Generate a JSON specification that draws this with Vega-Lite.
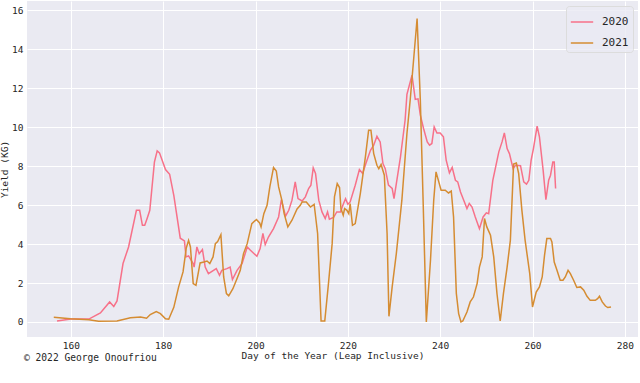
{
  "$schema": "https://vega.github.io/schema/vega-lite/v6.json",
  "width": 611,
  "height": 336,
  "autosize": {"type": "none"},
  "padding": {"left": 27, "top": 1, "right": 2, "bottom": 46},
  "background": "white",
  "title": {
    "text": "© 2022 George Onoufriou",
    "orient": "bottom",
    "anchor": "start",
    "frame": "group",
    "offset": -7,
    "dx": -3,
    "font": "DejaVu Sans Mono",
    "fontSize": 9.6,
    "fontWeight": "normal",
    "color": "#262626"
  },
  "data": {
    "values": [
      {"day": 157.0, "kg": 0.05, "year": "2020"},
      {"day": 160.0, "kg": 0.15, "year": "2020"},
      {"day": 163.9, "kg": 0.15, "year": "2020"},
      {"day": 166.4, "kg": 0.46, "year": "2020"},
      {"day": 168.4, "kg": 1.03, "year": "2020"},
      {"day": 169.3, "kg": 0.8, "year": "2020"},
      {"day": 170.0, "kg": 1.08, "year": "2020"},
      {"day": 171.3, "kg": 3.0, "year": "2020"},
      {"day": 172.5, "kg": 3.85, "year": "2020"},
      {"day": 174.2, "kg": 5.73, "year": "2020"},
      {"day": 174.9, "kg": 5.73, "year": "2020"},
      {"day": 175.5, "kg": 4.96, "year": "2020"},
      {"day": 176.0, "kg": 4.96, "year": "2020"},
      {"day": 176.5, "kg": 5.3, "year": "2020"},
      {"day": 177.1, "kg": 5.73, "year": "2020"},
      {"day": 178.1, "kg": 8.2, "year": "2020"},
      {"day": 178.7, "kg": 8.78, "year": "2020"},
      {"day": 179.2, "kg": 8.68, "year": "2020"},
      {"day": 180.5, "kg": 7.82, "year": "2020"},
      {"day": 181.4, "kg": 7.58, "year": "2020"},
      {"day": 182.3, "kg": 6.5, "year": "2020"},
      {"day": 183.7, "kg": 4.3, "year": "2020"},
      {"day": 184.6, "kg": 4.16, "year": "2020"},
      {"day": 184.95, "kg": 3.34, "year": "2020"},
      {"day": 185.5, "kg": 3.39, "year": "2020"},
      {"day": 186.5, "kg": 3.0, "year": "2020"},
      {"day": 186.7, "kg": 2.82, "year": "2020"},
      {"day": 187.3, "kg": 3.85, "year": "2020"},
      {"day": 187.8, "kg": 3.5, "year": "2020"},
      {"day": 188.5, "kg": 3.72, "year": "2020"},
      {"day": 189.1, "kg": 2.82, "year": "2020"},
      {"day": 189.8, "kg": 2.48, "year": "2020"},
      {"day": 191.5, "kg": 2.74, "year": "2020"},
      {"day": 192.2, "kg": 2.4, "year": "2020"},
      {"day": 192.7, "kg": 2.65, "year": "2020"},
      {"day": 193.8, "kg": 2.74, "year": "2020"},
      {"day": 194.5, "kg": 2.82, "year": "2020"},
      {"day": 195.0, "kg": 2.18, "year": "2020"},
      {"day": 196.0, "kg": 2.65, "year": "2020"},
      {"day": 197.1, "kg": 3.0, "year": "2020"},
      {"day": 198.2, "kg": 3.85, "year": "2020"},
      {"day": 198.9, "kg": 3.68, "year": "2020"},
      {"day": 200.3, "kg": 3.37, "year": "2020"},
      {"day": 201.0, "kg": 3.77, "year": "2020"},
      {"day": 201.6, "kg": 4.54, "year": "2020"},
      {"day": 202.1, "kg": 3.97, "year": "2020"},
      {"day": 202.8, "kg": 4.36, "year": "2020"},
      {"day": 203.9, "kg": 4.79, "year": "2020"},
      {"day": 205.0, "kg": 5.39, "year": "2020"},
      {"day": 205.6, "kg": 6.28, "year": "2020"},
      {"day": 206.5, "kg": 5.43, "year": "2020"},
      {"day": 207.2, "kg": 5.73, "year": "2020"},
      {"day": 207.9, "kg": 6.25, "year": "2020"},
      {"day": 208.6, "kg": 7.19, "year": "2020"},
      {"day": 209.2, "kg": 6.33, "year": "2020"},
      {"day": 210.1, "kg": 6.21, "year": "2020"},
      {"day": 210.8, "kg": 6.42, "year": "2020"},
      {"day": 211.5, "kg": 6.85, "year": "2020"},
      {"day": 212.0, "kg": 7.02, "year": "2020"},
      {"day": 212.5, "kg": 7.91, "year": "2020"},
      {"day": 213.0, "kg": 7.62, "year": "2020"},
      {"day": 213.7, "kg": 6.25, "year": "2020"},
      {"day": 214.4, "kg": 5.65, "year": "2020"},
      {"day": 215.1, "kg": 5.31, "year": "2020"},
      {"day": 215.6, "kg": 5.65, "year": "2020"},
      {"day": 216.0, "kg": 5.27, "year": "2020"},
      {"day": 216.9, "kg": 5.36, "year": "2020"},
      {"day": 217.6, "kg": 5.65, "year": "2020"},
      {"day": 218.4, "kg": 5.65, "year": "2020"},
      {"day": 219.0, "kg": 6.04, "year": "2020"},
      {"day": 219.5, "kg": 6.33, "year": "2020"},
      {"day": 220.0, "kg": 6.04, "year": "2020"},
      {"day": 220.5, "kg": 6.16, "year": "2020"},
      {"day": 221.6, "kg": 7.02, "year": "2020"},
      {"day": 222.5, "kg": 7.82, "year": "2020"},
      {"day": 223.2, "kg": 7.62, "year": "2020"},
      {"day": 223.9, "kg": 8.13, "year": "2020"},
      {"day": 224.9, "kg": 8.81, "year": "2020"},
      {"day": 225.6, "kg": 9.07, "year": "2020"},
      {"day": 226.3, "kg": 9.53, "year": "2020"},
      {"day": 227.0, "kg": 9.24, "year": "2020"},
      {"day": 227.6, "kg": 8.13, "year": "2020"},
      {"day": 228.1, "kg": 7.87, "year": "2020"},
      {"day": 228.8, "kg": 7.02, "year": "2020"},
      {"day": 229.6, "kg": 6.85, "year": "2020"},
      {"day": 230.0, "kg": 6.33, "year": "2020"},
      {"day": 231.4, "kg": 8.47, "year": "2020"},
      {"day": 232.4, "kg": 10.35, "year": "2020"},
      {"day": 232.8, "kg": 11.68, "year": "2020"},
      {"day": 233.9, "kg": 12.66, "year": "2020"},
      {"day": 234.6, "kg": 11.42, "year": "2020"},
      {"day": 235.2, "kg": 11.45, "year": "2020"},
      {"day": 235.7, "kg": 10.61, "year": "2020"},
      {"day": 236.4, "kg": 9.93, "year": "2020"},
      {"day": 237.2, "kg": 9.24, "year": "2020"},
      {"day": 237.7, "kg": 9.07, "year": "2020"},
      {"day": 238.2, "kg": 9.16, "year": "2020"},
      {"day": 238.7, "kg": 10.01, "year": "2020"},
      {"day": 239.3, "kg": 9.7, "year": "2020"},
      {"day": 240.0, "kg": 9.7, "year": "2020"},
      {"day": 240.7, "kg": 9.5, "year": "2020"},
      {"day": 241.3, "kg": 8.3, "year": "2020"},
      {"day": 242.0, "kg": 7.65, "year": "2020"},
      {"day": 242.6, "kg": 7.93, "year": "2020"},
      {"day": 243.3, "kg": 7.27, "year": "2020"},
      {"day": 243.8, "kg": 7.19, "year": "2020"},
      {"day": 244.4, "kg": 6.67, "year": "2020"},
      {"day": 245.1, "kg": 6.25, "year": "2020"},
      {"day": 245.8, "kg": 5.82, "year": "2020"},
      {"day": 246.3, "kg": 6.08, "year": "2020"},
      {"day": 246.9, "kg": 5.9, "year": "2020"},
      {"day": 247.6, "kg": 5.39, "year": "2020"},
      {"day": 248.5, "kg": 4.79, "year": "2020"},
      {"day": 249.3, "kg": 5.39, "year": "2020"},
      {"day": 250.0, "kg": 5.6, "year": "2020"},
      {"day": 250.5, "kg": 5.56, "year": "2020"},
      {"day": 251.4, "kg": 7.27, "year": "2020"},
      {"day": 252.7, "kg": 8.73, "year": "2020"},
      {"day": 253.4, "kg": 9.24, "year": "2020"},
      {"day": 253.9, "kg": 9.7, "year": "2020"},
      {"day": 254.5, "kg": 8.9, "year": "2020"},
      {"day": 255.0, "kg": 8.64, "year": "2020"},
      {"day": 255.8, "kg": 7.87, "year": "2020"},
      {"day": 256.3, "kg": 8.04, "year": "2020"},
      {"day": 257.4, "kg": 8.02, "year": "2020"},
      {"day": 258.1, "kg": 7.19, "year": "2020"},
      {"day": 258.7, "kg": 7.07, "year": "2020"},
      {"day": 259.2, "kg": 7.27, "year": "2020"},
      {"day": 259.7, "kg": 8.3, "year": "2020"},
      {"day": 260.2, "kg": 8.9, "year": "2020"},
      {"day": 261.0, "kg": 10.05, "year": "2020"},
      {"day": 261.5, "kg": 9.5, "year": "2020"},
      {"day": 262.3, "kg": 7.79, "year": "2020"},
      {"day": 262.9, "kg": 6.28, "year": "2020"},
      {"day": 263.5, "kg": 7.27, "year": "2020"},
      {"day": 263.9, "kg": 7.53, "year": "2020"},
      {"day": 264.4, "kg": 8.21, "year": "2020"},
      {"day": 264.7, "kg": 8.21, "year": "2020"},
      {"day": 265.0, "kg": 6.85, "year": "2020"},
      {"day": 156.3, "kg": 0.24, "year": "2021"},
      {"day": 159.9, "kg": 0.17, "year": "2021"},
      {"day": 163.9, "kg": 0.12, "year": "2021"},
      {"day": 166.0, "kg": 0.04, "year": "2021"},
      {"day": 170.0, "kg": 0.05, "year": "2021"},
      {"day": 172.9, "kg": 0.22, "year": "2021"},
      {"day": 175.1, "kg": 0.26, "year": "2021"},
      {"day": 176.4, "kg": 0.19, "year": "2021"},
      {"day": 177.2, "kg": 0.38, "year": "2021"},
      {"day": 178.5, "kg": 0.53, "year": "2021"},
      {"day": 179.4, "kg": 0.43, "year": "2021"},
      {"day": 180.5, "kg": 0.17, "year": "2021"},
      {"day": 181.2, "kg": 0.14, "year": "2021"},
      {"day": 182.3, "kg": 0.75, "year": "2021"},
      {"day": 183.35, "kg": 1.8, "year": "2021"},
      {"day": 184.3, "kg": 2.57, "year": "2021"},
      {"day": 185.0, "kg": 3.8, "year": "2021"},
      {"day": 185.5, "kg": 4.19, "year": "2021"},
      {"day": 185.9, "kg": 3.85, "year": "2021"},
      {"day": 186.5, "kg": 1.97, "year": "2021"},
      {"day": 187.1, "kg": 1.88, "year": "2021"},
      {"day": 188.0, "kg": 3.03, "year": "2021"},
      {"day": 188.8, "kg": 3.08, "year": "2021"},
      {"day": 189.5, "kg": 3.13, "year": "2021"},
      {"day": 190.1, "kg": 3.0, "year": "2021"},
      {"day": 190.8, "kg": 3.34, "year": "2021"},
      {"day": 191.3, "kg": 4.02, "year": "2021"},
      {"day": 191.8, "kg": 4.13, "year": "2021"},
      {"day": 192.5, "kg": 4.48, "year": "2021"},
      {"day": 193.1, "kg": 2.31, "year": "2021"},
      {"day": 193.7, "kg": 1.46, "year": "2021"},
      {"day": 194.2, "kg": 1.34, "year": "2021"},
      {"day": 195.1, "kg": 1.71, "year": "2021"},
      {"day": 196.0, "kg": 2.23, "year": "2021"},
      {"day": 196.7, "kg": 2.65, "year": "2021"},
      {"day": 197.4, "kg": 3.51, "year": "2021"},
      {"day": 198.2, "kg": 4.02, "year": "2021"},
      {"day": 199.2, "kg": 5.05, "year": "2021"},
      {"day": 200.2, "kg": 5.26, "year": "2021"},
      {"day": 200.9, "kg": 5.08, "year": "2021"},
      {"day": 201.2, "kg": 4.88, "year": "2021"},
      {"day": 201.8, "kg": 5.56, "year": "2021"},
      {"day": 202.5, "kg": 5.99, "year": "2021"},
      {"day": 203.1, "kg": 6.93, "year": "2021"},
      {"day": 203.9, "kg": 7.93, "year": "2021"},
      {"day": 204.5, "kg": 7.75, "year": "2021"},
      {"day": 205.0, "kg": 6.93, "year": "2021"},
      {"day": 205.7, "kg": 6.25, "year": "2021"},
      {"day": 206.2, "kg": 5.56, "year": "2021"},
      {"day": 207.0, "kg": 4.88, "year": "2021"},
      {"day": 207.9, "kg": 5.22, "year": "2021"},
      {"day": 209.0, "kg": 5.8, "year": "2021"},
      {"day": 209.7, "kg": 5.99, "year": "2021"},
      {"day": 210.1, "kg": 6.16, "year": "2021"},
      {"day": 211.0, "kg": 6.16, "year": "2021"},
      {"day": 211.9, "kg": 5.9, "year": "2021"},
      {"day": 212.7, "kg": 6.04, "year": "2021"},
      {"day": 213.45, "kg": 4.54, "year": "2021"},
      {"day": 214.2, "kg": 0.05, "year": "2021"},
      {"day": 215.0, "kg": 0.05, "year": "2021"},
      {"day": 215.8, "kg": 1.97, "year": "2021"},
      {"day": 216.6, "kg": 4.02, "year": "2021"},
      {"day": 217.1, "kg": 6.42, "year": "2021"},
      {"day": 217.7, "kg": 7.1, "year": "2021"},
      {"day": 218.2, "kg": 6.9, "year": "2021"},
      {"day": 218.5, "kg": 5.82, "year": "2021"},
      {"day": 219.0, "kg": 5.48, "year": "2021"},
      {"day": 219.3, "kg": 5.82, "year": "2021"},
      {"day": 219.8, "kg": 5.73, "year": "2021"},
      {"day": 220.2, "kg": 5.56, "year": "2021"},
      {"day": 220.5, "kg": 6.08, "year": "2021"},
      {"day": 221.0, "kg": 4.96, "year": "2021"},
      {"day": 221.6, "kg": 5.05, "year": "2021"},
      {"day": 222.7, "kg": 6.59, "year": "2021"},
      {"day": 223.8, "kg": 8.47, "year": "2021"},
      {"day": 224.5, "kg": 9.84, "year": "2021"},
      {"day": 225.0, "kg": 9.84, "year": "2021"},
      {"day": 225.6, "kg": 8.64, "year": "2021"},
      {"day": 226.3, "kg": 8.04, "year": "2021"},
      {"day": 226.7, "kg": 7.87, "year": "2021"},
      {"day": 227.2, "kg": 8.08, "year": "2021"},
      {"day": 227.9, "kg": 7.53, "year": "2021"},
      {"day": 228.5, "kg": 4.54, "year": "2021"},
      {"day": 228.9, "kg": 0.29, "year": "2021"},
      {"day": 229.6, "kg": 1.8, "year": "2021"},
      {"day": 230.5, "kg": 3.51, "year": "2021"},
      {"day": 231.7, "kg": 6.25, "year": "2021"},
      {"day": 232.8, "kg": 9.67, "year": "2021"},
      {"day": 233.5, "kg": 11.38, "year": "2021"},
      {"day": 235.0, "kg": 15.57, "year": "2021"},
      {"day": 235.7, "kg": 11.38, "year": "2021"},
      {"day": 236.3, "kg": 6.25, "year": "2021"},
      {"day": 237.0, "kg": 0.0, "year": "2021"},
      {"day": 237.9, "kg": 3.17, "year": "2021"},
      {"day": 238.6, "kg": 6.25, "year": "2021"},
      {"day": 239.1, "kg": 7.7, "year": "2021"},
      {"day": 239.7, "kg": 7.19, "year": "2021"},
      {"day": 240.2, "kg": 6.76, "year": "2021"},
      {"day": 241.1, "kg": 6.76, "year": "2021"},
      {"day": 241.8, "kg": 6.62, "year": "2021"},
      {"day": 242.4, "kg": 6.72, "year": "2021"},
      {"day": 242.9, "kg": 5.39, "year": "2021"},
      {"day": 243.5, "kg": 1.46, "year": "2021"},
      {"day": 244.0, "kg": 0.43, "year": "2021"},
      {"day": 244.5, "kg": 0.0, "year": "2021"},
      {"day": 244.9, "kg": 0.05, "year": "2021"},
      {"day": 245.8, "kg": 0.51, "year": "2021"},
      {"day": 246.5, "kg": 1.03, "year": "2021"},
      {"day": 247.2, "kg": 1.28, "year": "2021"},
      {"day": 248.0, "kg": 1.97, "year": "2021"},
      {"day": 248.5, "kg": 2.82, "year": "2021"},
      {"day": 249.1, "kg": 3.34, "year": "2021"},
      {"day": 249.6, "kg": 5.31, "year": "2021"},
      {"day": 250.1, "kg": 4.88, "year": "2021"},
      {"day": 250.9, "kg": 4.45, "year": "2021"},
      {"day": 251.6, "kg": 3.34, "year": "2021"},
      {"day": 252.3, "kg": 1.46, "year": "2021"},
      {"day": 253.0, "kg": 0.05, "year": "2021"},
      {"day": 253.7, "kg": 1.46, "year": "2021"},
      {"day": 254.5, "kg": 2.82, "year": "2021"},
      {"day": 255.2, "kg": 4.19, "year": "2021"},
      {"day": 255.9, "kg": 8.1, "year": "2021"},
      {"day": 256.5, "kg": 8.16, "year": "2021"},
      {"day": 257.0, "kg": 7.62, "year": "2021"},
      {"day": 257.7, "kg": 5.73, "year": "2021"},
      {"day": 258.4, "kg": 4.19, "year": "2021"},
      {"day": 259.4, "kg": 2.48, "year": "2021"},
      {"day": 260.0, "kg": 0.77, "year": "2021"},
      {"day": 260.8, "kg": 1.54, "year": "2021"},
      {"day": 261.5, "kg": 1.8, "year": "2021"},
      {"day": 262.1, "kg": 2.31, "year": "2021"},
      {"day": 262.6, "kg": 3.42, "year": "2021"},
      {"day": 263.1, "kg": 4.28, "year": "2021"},
      {"day": 263.9, "kg": 4.28, "year": "2021"},
      {"day": 264.2, "kg": 4.11, "year": "2021"},
      {"day": 264.7, "kg": 3.08, "year": "2021"},
      {"day": 265.3, "kg": 2.65, "year": "2021"},
      {"day": 266.0, "kg": 2.14, "year": "2021"},
      {"day": 266.6, "kg": 2.14, "year": "2021"},
      {"day": 267.1, "kg": 2.31, "year": "2021"},
      {"day": 267.7, "kg": 2.65, "year": "2021"},
      {"day": 268.2, "kg": 2.48, "year": "2021"},
      {"day": 268.9, "kg": 2.14, "year": "2021"},
      {"day": 269.6, "kg": 1.77, "year": "2021"},
      {"day": 270.4, "kg": 1.8, "year": "2021"},
      {"day": 271.1, "kg": 1.63, "year": "2021"},
      {"day": 271.8, "kg": 1.32, "year": "2021"},
      {"day": 272.5, "kg": 1.11, "year": "2021"},
      {"day": 273.6, "kg": 1.11, "year": "2021"},
      {"day": 274.1, "kg": 1.2, "year": "2021"},
      {"day": 274.5, "kg": 1.32, "year": "2021"},
      {"day": 275.1, "kg": 1.03, "year": "2021"},
      {"day": 275.8, "kg": 0.82, "year": "2021"},
      {"day": 276.3, "kg": 0.74, "year": "2021"},
      {"day": 277.0, "kg": 0.77, "year": "2021"}
    ]
  },
  "mark": {"type": "line", "strokeWidth": 1.5, "clip": true},
  "encoding": {
    "x": {
      "field": "day",
      "type": "quantitative",
      "scale": {"domain": [150.5, 282.85], "nice": false, "zero": false},
      "axis": {
        "values": [160, 180, 200, 220, 240, 260, 280],
        "title": "Day of the Year (Leap Inclusive)",
        "labelPadding": 3,
        "titlePadding": 1
      }
    },
    "y": {
      "field": "kg",
      "type": "quantitative",
      "scale": {"domain": [-0.77, 16.47], "nice": false, "zero": false},
      "axis": {
        "values": [0, 2, 4, 6, 8, 10, 12, 14, 16],
        "title": "Yield (KG)",
        "labelPadding": 4,
        "titlePadding": 2
      }
    },
    "color": {
      "field": "year",
      "type": "nominal",
      "scale": {"domain": ["2020", "2021"], "range": ["#f77189", "#d58c32"]},
      "legend": {
        "title": null,
        "orient": "top-right",
        "offset": 5,
        "padding": 4,
        "symbolType": "stroke",
        "symbolSize": 500,
        "symbolStrokeWidth": 1.5,
        "labelFontSize": 11,
        "labelFont": "DejaVu Sans Mono",
        "labelColor": "#262626",
        "rowPadding": 4,
        "labelOffset": 8,
        "fillColor": "rgba(234,234,242,0.8)",
        "strokeColor": "#dcdcdc",
        "cornerRadius": 3
      }
    }
  },
  "config": {
    "view": {"fill": "#EAEAF2", "stroke": null},
    "axis": {
      "domain": false,
      "ticks": false,
      "grid": true,
      "gridColor": "white",
      "gridWidth": 1,
      "gridOpacity": 1,
      "labelFont": "DejaVu Sans Mono",
      "labelFontSize": 9.5,
      "labelColor": "#262626",
      "titleFont": "DejaVu Sans Mono",
      "titleFontSize": 9.5,
      "titleFontWeight": "normal",
      "titleColor": "#262626"
    }
  }
}
